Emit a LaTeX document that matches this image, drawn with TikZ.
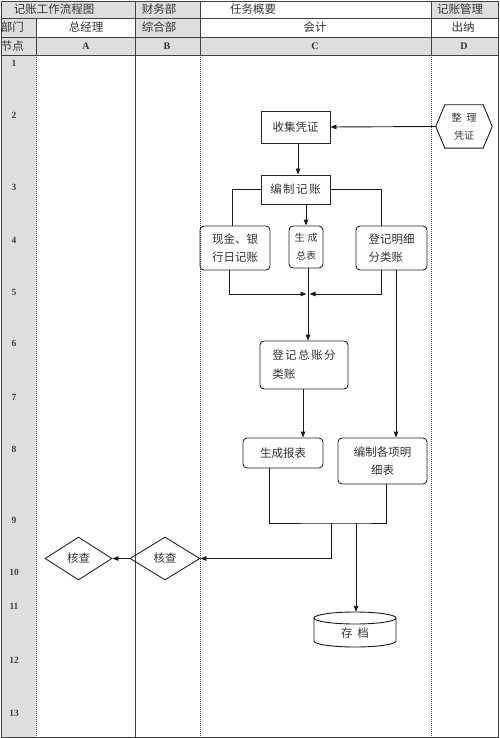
\documentclass[tikz,border=0pt]{standalone}
\usepackage{fontspec}
\setmainfont{Liberation Serif}
\newfontfamily\cjk{Noto Sans CJK SC}
\usetikzlibrary{shapes.geometric,arrows.meta}
\newcommand\gp{\hspace{1.5pt}}
\begin{document}
\begin{tikzpicture}[x=1pt,y=-1pt,
  hdrfill/.style={fill=black!13},
  gridline/.style={draw=black!75,line width=0.8pt},
  dotline/.style={draw=black!70,line width=0.9pt,dash pattern=on 0.9pt off 1.1pt},
  hdrtext/.style={font=\cjk\fontsize{11.5}{14}\selectfont,text=black!80,inner sep=0pt},
  lettertext/.style={font=\fontsize{10}{12}\selectfont\bfseries,text=black!80,inner sep=0pt},
  numtext/.style={font=\fontsize{9.5}{12}\selectfont\bfseries,text=black!75,inner sep=0pt},
  box/.style={draw=black!85,line width=0.9pt,inner sep=0pt,text=black!80,
    font=\cjk\fontsize{11.5}{18}\selectfont},
  rbox/.style={box,rounded corners=4pt},
  plain/.style={inner sep=0pt,text=black!80,font=\cjk\fontsize{11.5}{18}\selectfont},
  dia/.style={draw=black!85,line width=0.9pt,diamond,inner sep=0pt,aspect=1.6,
    text=black!80,font=\cjk\fontsize{11.5}{14}\selectfont},
  conn/.style={draw=black!90,line width=0.9pt},
  arr/.style={conn,-{Triangle[length=6pt,width=4.5pt]}}
]
\useasboundingbox (0,0) rectangle (500,738);
% header fills
\fill[hdrfill] (1,1) rectangle (200,18);
\fill[hdrfill] (431,1) rectangle (498,18);
\fill[hdrfill] (1,18) rectangle (36,37);
\fill[hdrfill] (135,18) rectangle (200,37);
\fill[hdrfill] (1,37) rectangle (498,55);
\fill[hdrfill] (1,55) rectangle (36,737);
% grid
\draw[gridline] (1,1) rectangle (498,737);
\draw[gridline] (1,18) -- (498,18);
\draw[gridline] (1,37) -- (498,37);
\draw[gridline] (1,55) -- (498,55);
\draw[gridline] (36,18) -- (36,55);
\draw[gridline] (135,1) -- (135,737);
\draw[gridline] (200,1) -- (200,55);
\draw[gridline] (431,1) -- (431,55);
\draw[dotline] (36,55) -- (36,737);
\draw[dotline] (200,55) -- (200,737);
\draw[dotline] (431,55) -- (431,737);
% header texts
\node[hdrtext] (h1) at (54,9.5) {记账工作流程图};
\node[hdrtext] (h2) at (159,9.5) {财务部};
\node[hdrtext] (h3) at (253,9.5) {任务概要};
\node[hdrtext] (h4) at (460,9.5) {记账管理};
\node[hdrtext] (h5) at (12.5,27.5) {部门};
\node[hdrtext] (h6) at (86,27.5) {总经理};
\node[hdrtext] (h7) at (159,27.5) {综合部};
\node[hdrtext] (h8) at (315,27.5) {会计};
\node[hdrtext] (h9) at (463,27.5) {出纳};
\node[hdrtext] (h10) at (12.5,46) {节点};
\node[lettertext] (la) at (86,46.5) {A};
\node[lettertext] (lb) at (167,46.5) {B};
\node[lettertext] (lc) at (315,46.5) {C};
\node[lettertext] (ld) at (464,46.5) {D};
% row numbers
\foreach \n/\yy in {1/63,2/115,3/187,4/240,5/292,6/343,7/397,8/449,9/520,10/572,11/606,12/660,13/713}
  \node[numtext] (n\n) at (14,\yy) {\n};
% process nodes
\node[box,minimum width=69pt,minimum height=32pt] (shouji) at (295.5,127) {收集凭证};
\node[plain,minimum width=56pt,minimum height=43pt,font=\cjk\fontsize{10}{18}\selectfont,align=center] (zhengli) at (464,126.5) {整\hspace{5pt}理\\凭证};
\draw[conn] (zhengli.west) -- ([xshift=9pt]zhengli.north west) -- ([xshift=-9pt]zhengli.north east)
  -- (zhengli.east) -- ([xshift=-9pt]zhengli.south east) -- ([xshift=9pt]zhengli.south west) -- cycle;
\node[box,minimum width=69pt,minimum height=29pt] (bianzhi) at (295.5,189.5) {编\gp 制\gp 记\gp 账};
\node[rbox,minimum width=70pt,minimum height=44pt,align=left] (xianjin) at (235,248) {现金、银\\行日记账};
\node[rbox,minimum width=34pt,minimum height=42pt,align=center,font=\cjk\fontsize{10}{18}\selectfont] (zongbiao) at (306,247) {生\hspace{3pt}成\\总表};
\node[rbox,minimum width=71pt,minimum height=44pt,align=left] (mingxi) at (391.5,248) {登记明细\\分类账};
\node[rbox,minimum width=88pt,minimum height=48pt] (dengji) at (304,365)
  {\begin{tabular}{@{}l@{}}登\gp 记\gp 总\gp 账\gp 分\\[1pt]类账\end{tabular}};
\node[rbox,minimum width=80pt,minimum height=30pt] (baobiao) at (283,453) {生成报表};
\node[rbox,minimum width=89pt,minimum height=46pt,align=center] (gexiang) at (382.5,461) {编制各项明\\细表};
\node[dia,minimum width=67pt,minimum height=43pt] (heA) at (78.5,558.5) {核查};
\node[dia,minimum width=70pt,minimum height=43pt] (heB) at (165,558.5) {核查};
\node[plain,minimum width=82pt,minimum height=35pt] (cundang) at (355,629.5) {};
\node[plain] (cdtext) at (355,633) {存\hspace{5pt}档};
% cylinder
\draw[conn] (355,618) ellipse [x radius=41pt, y radius=6pt];
\draw[conn] (314,618) -- (314,641) arc[start angle=180,end angle=360,x radius=41pt,y radius=6pt] -- (396,618);
% connectors
\draw[arr] (zhengli.west) -- (shouji.east);
\draw[arr] ([xshift=2.5pt]shouji.south) -- ([xshift=2.5pt]bianzhi.north);
\draw[arr] (bianzhi.south -| zongbiao.north) -- (zongbiao.north);
\draw[conn] (bianzhi.west) -| ([xshift=-3pt]xianjin.north);
\draw[conn] (bianzhi.east) -| ([xshift=-10pt]mingxi.north);
\coordinate (j) at (308,294);
\coordinate (jl) at (306.5,294);
\coordinate (jr) at (309.5,294);
\draw[arr] ([xshift=-6pt]xianjin.south) |- (jl);
\draw[arr] ([xshift=-10pt]mingxi.south) |- (jr);
\draw[arr] (zongbiao.south -| j) -- (dengji.north -| j);
\draw[arr] ([xshift=4.5pt]mingxi.south) -- ([xshift=4.5pt]mingxi.south |- gexiang.north);
\draw[arr] ([xshift=-1pt]dengji.south) -- ([xshift=-1pt]dengji.south |- baobiao.north);
\coordinate (k1) at (331,523);
\coordinate (k2) at (356,523);
\draw[conn] ([xshift=-14pt]baobiao.south) |- (k1) -- (k2) -| ([xshift=3.5pt]gexiang.south);
\draw[arr] (k1) |- (heB.east);
\draw[arr] (k2) -- (cundang.north -| k2);
\draw[arr] (heB.west) -- (heA.east);
\end{tikzpicture}
\end{document}
